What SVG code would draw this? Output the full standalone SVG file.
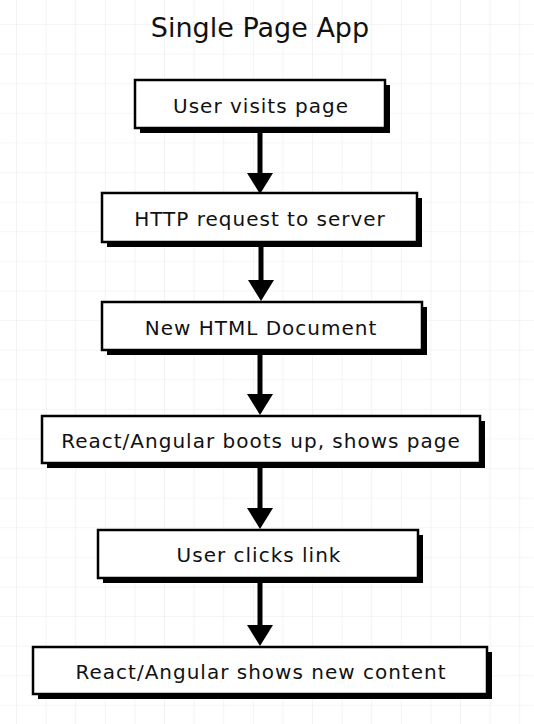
<svg xmlns="http://www.w3.org/2000/svg" width="534" height="724" viewBox="0 0 534 724">
  <style>
    .shadow { fill: #000; }
    .box { fill: #fff; stroke: #000; stroke-width: 2.5; }
    .label { font-family: "DejaVu Sans", "Liberation Sans", sans-serif; font-size: 20px; letter-spacing: 1px; fill: #111; text-anchor: middle; }
    .title { font-family: "DejaVu Sans", "Liberation Sans", sans-serif; font-size: 27px; fill: #111; text-anchor: middle; }
    .conn { stroke: #000; stroke-width: 5; fill: none; }
  </style>
  <defs>
    <pattern id="grid" x="16" y="24" width="29.6" height="29.6" patternUnits="userSpaceOnUse">
      <path d="M0 0 H29.6 M0 0 V29.6" stroke="#ececec" stroke-width="1.2" fill="none"/>
    </pattern>
    <marker id="arrow" viewBox="0 -13 21 26" markerWidth="21" markerHeight="26" refX="0" refY="0" orient="auto" markerUnits="userSpaceOnUse">
      <path d="M0 -13 L21 0 L0 13 Z" fill="#000"/>
    </marker>
  </defs>

  <rect x="0" y="0" width="534" height="724" fill="#fff"/>
  <rect x="0" y="0" width="534" height="724" fill="url(#grid)"/>

  <text id="title" class="title" x="260" y="37">Single Page App</text>

  <g id="connectors">
    <line class="conn" x1="260" y1="128" x2="260" y2="173" marker-end="url(#arrow)"/>
    <line class="conn" x1="261" y1="242" x2="261" y2="280" marker-end="url(#arrow)"/>
    <line class="conn" x1="260" y1="350" x2="260" y2="394" marker-end="url(#arrow)"/>
    <line class="conn" x1="260" y1="463" x2="260" y2="508" marker-end="url(#arrow)"/>
    <line class="conn" x1="260" y1="578" x2="260" y2="625" marker-end="url(#arrow)"/>
  </g>

  <g id="node-user-visits">
    <rect class="shadow" x="140" y="85" width="250" height="48"/>
    <rect class="box" x="135" y="80" width="250" height="48"/>
    <text class="label" x="261" y="113">User visits page</text>
  </g>

  <g id="node-http-request">
    <rect class="shadow" x="107" y="198" width="315" height="49"/>
    <rect class="box" x="102" y="193" width="315" height="49"/>
    <text class="label" x="260" y="226">HTTP request to server</text>
  </g>

  <g id="node-html-document">
    <rect class="shadow" x="107" y="307" width="320" height="48"/>
    <rect class="box" x="102" y="302" width="320" height="48"/>
    <text class="label" x="261" y="335">New HTML Document</text>
  </g>

  <g id="node-boots-up">
    <rect class="shadow" x="47" y="421" width="438" height="47"/>
    <rect class="box" x="42" y="416" width="438" height="47"/>
    <text class="label" x="261" y="448">React/Angular boots up, shows page</text>
  </g>

  <g id="node-clicks-link">
    <rect class="shadow" x="103" y="535" width="320" height="48"/>
    <rect class="box" x="98" y="530" width="320" height="48"/>
    <text class="label" x="259" y="562">User clicks link</text>
  </g>

  <g id="node-new-content">
    <rect class="shadow" x="38" y="652" width="454" height="47"/>
    <rect class="box" x="33" y="647" width="454" height="47"/>
    <text class="label" x="261" y="679">React/Angular shows new content</text>
  </g>
</svg>
